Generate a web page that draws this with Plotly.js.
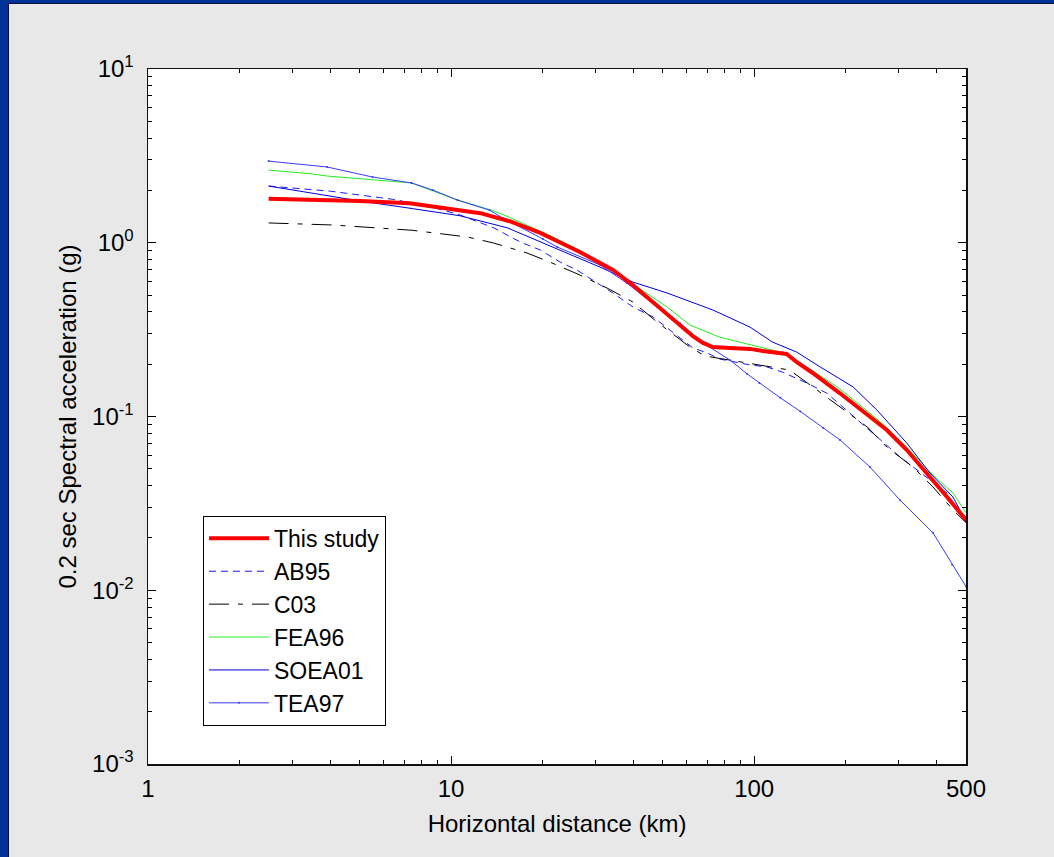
<!DOCTYPE html>
<html><head><meta charset="utf-8">
<script src="https://cdn.plot.ly/plotly-3.0.1.min.js"></script>
<style>
html,body{margin:0;padding:0;background:#003399;width:1054px;height:857px;overflow:hidden;}
#frame{position:absolute;left:8px;top:3px;width:1046px;height:854px;background:#0c0c3c;}
#plot{position:absolute;left:1px;top:1px;width:1045px;height:853px;}
</style></head><body><div id="frame"><div id="plot"></div></div>
<script>
// ---- data (distance km, 0.2 s spectral acceleration g) ----
const thisStudyDist = [2.5, 5, 7.3, 10.7, 12.5, 15.6, 19.7, 26.6, 34.2, 39.8, 46.4, 51.6, 56.9, 62.8, 67.8, 73.1, 83.4, 97, 107, 122, 128, 138, 156, 192, 236, 274, 319, 372, 433, 500];
const thisStudySA   = [1.79, 1.74, 1.69, 1.53, 1.48, 1.33, 1.14, 0.885, 0.697, 0.571, 0.456, 0.392, 0.336, 0.290, 0.265, 0.251, 0.248, 0.245, 0.238, 0.233, 0.229, 0.206, 0.178, 0.136, 0.102, 0.0836, 0.0641, 0.0473, 0.0344, 0.0254];

const ab95Dist = [2.5, 4, 6.4, 8.5, 10.7, 13.8, 16.9, 19.7, 22.9, 26.0, 34.2, 39.8, 46.4, 51.6, 62.8, 70.0, 77.1, 96.9, 110, 124, 149, 174, 236, 303, 433, 500];
const ab95SA   = [2.12, 1.98, 1.78, 1.62, 1.445, 1.22, 1.01, 0.908, 0.774, 0.697, 0.514, 0.427, 0.374, 0.323, 0.248, 0.232, 0.214, 0.198, 0.193, 0.180, 0.156, 0.136, 0.0859, 0.0585, 0.0363, 0.0247];

const c03Dist = [2.5, 4.08, 7.43, 11.3, 13.8, 17.8, 21.2, 26.6, 32.7, 39.8, 47.8, 61.4, 68.8, 89.8, 110, 131, 142, 165, 192, 236, 274, 334, 389, 453, 500];
const c03SA   = [1.30, 1.265, 1.18, 1.08, 0.997, 0.873, 0.774, 0.652, 0.549, 0.456, 0.350, 0.251, 0.223, 0.206, 0.195, 0.185, 0.167, 0.138, 0.113, 0.0871, 0.0667, 0.0512, 0.0393, 0.0290, 0.0245];

const fea96Dist = [2.5, 3.48, 3.9, 5.5, 7.4, 8.7, 10.5, 13.6, 15.3, 20.7, 26.6, 34.2, 40, 51.6, 61.4, 68.8, 76.6, 91.9, 107, 122, 149, 188, 254, 319, 389, 453, 500];
const fea96SA   = [2.62, 2.49, 2.42, 2.30, 2.21, 1.99, 1.76, 1.54, 1.42, 1.12, 0.90, 0.70, 0.575, 0.427, 0.336, 0.310, 0.287, 0.265, 0.248, 0.235, 0.193, 0.148, 0.097, 0.0667, 0.046, 0.0363, 0.0279];

const soea01Dist = [2.5, 5, 7.5, 10.7, 15.3, 22.9, 31.0, 39.8, 51.6, 73.1, 96.9, 115, 138, 165, 212, 254, 319, 380, 453, 500];
const soea01SA   = [2.12, 1.74, 1.57, 1.43, 1.22, 0.908, 0.724, 0.594, 0.514, 0.410, 0.327, 0.268, 0.235, 0.193, 0.148, 0.109, 0.0703, 0.0473, 0.0344, 0.0248];

const tea97Dist = [2.5, 3.9, 5.5, 7.4, 8.7, 10.5, 13.4, 14.8, 20.1, 22.4, 31.0, 38.0, 47.8, 56.9, 67.8, 71.4, 83.4, 94.7, 104, 122, 142, 169, 192, 241, 303, 389, 450, 500];
const tea97SA   = [2.95, 2.73, 2.39, 2.21, 2.01, 1.76, 1.54, 1.39, 1.05, 0.945, 0.745, 0.586, 0.427, 0.345, 0.265, 0.251, 0.211, 0.176, 0.156, 0.128, 0.107, 0.0859, 0.0733, 0.0512, 0.0330, 0.0214, 0.0140, 0.0105];

const xTickVals = [1, 10, 100, 500];
const xTickText = ['1', '10', '100', '500'];
const yTickVals = [0.001, 0.01, 0.1, 1, 10];
const yTickText = ['10<sup>-3</sup>', '10<sup>-2</sup>', '10<sup>-1</sup>', '10<sup>0</sup>', '10<sup>1</sup>'];

// minor tick positions (axis decoration)
const xMinor = [];
[1, 10, 100].forEach(d => { for (let k = 2; k <= 9; k++) { if (k * d < 500) xMinor.push(k * d); } });
const yMinor = [];
[0.001, 0.01, 0.1, 1].forEach(d => { for (let k = 2; k <= 9; k++) yMinor.push(k * d); });

const FONT = 'Liberation Sans, Arial, Helvetica, sans-serif';

const traces = [
  {name: 'AB95', x: ab95Dist, y: ab95SA, mode: 'lines', legendrank: 2,
   line: {color: '#1a1aff', width: 1, dash: '7px,5px'}},
  {name: 'C03', x: c03Dist, y: c03SA, mode: 'lines', legendrank: 3,
   line: {color: '#000000', width: 1, dash: '20px,9px,5px,9px'}},
  {name: 'FEA96', x: fea96Dist, y: fea96SA, mode: 'lines', legendrank: 4,
   line: {color: '#22ee22', width: 1}},
  {name: 'SOEA01', x: soea01Dist, y: soea01SA, mode: 'lines', legendrank: 5,
   line: {color: '#0000dd', width: 1}},
  {name: 'TEA97', x: tea97Dist, y: tea97SA, mode: 'lines+markers', legendrank: 6,
   line: {color: '#3a3aff', width: 1}, marker: {color: '#3a3aff', size: 2}},
  {name: 'This study', x: thisStudyDist, y: thisStudySA, mode: 'lines', legendrank: 1,
   line: {color: '#ff0000', width: 4}}
];

const layout = {
  width: 1045, height: 853,
  margin: {l: 139, r: 88, t: 65, b: 93, pad: 0},
  paper_bgcolor: '#e8e8e8',
  plot_bgcolor: '#ffffff',
  font: {family: FONT, size: 24, color: '#000'},
  showlegend: true,
  legend: {
    x: 0.0672, y: 0.357, xanchor: 'left', yanchor: 'top',
    bgcolor: '#ffffff', bordercolor: '#000', borderwidth: 1,
    font: {family: FONT, size: 23, color: '#000'},
    itemwidth: 60, tracegroupgap: 0
  },
  xaxis: {
    type: 'log', range: [0, Math.log10(500)],
    tickmode: 'array', tickvals: xTickVals, ticktext: xTickText,
    ticks: 'inside', ticklen: 8, tickwidth: 1, tickcolor: '#000',
    showline: true, linecolor: '#111', linewidth: 1.5, mirror: 'ticks',
    showgrid: false, zeroline: false,
    minor: {ticks: 'inside', ticklen: 4, tickwidth: 1, tickcolor: '#000', tickvals: xMinor, showgrid: false},
    tickfont: {family: FONT, size: 24, color: '#000'},
    ticklabelstandoff: 3,
    title: {text: 'Horizontal distance (km)', font: {family: FONT, size: 24, color: '#000'}, standoff: 14}
  },
  yaxis: {
    type: 'log', range: [-3, 1],
    tickmode: 'array', tickvals: yTickVals, ticktext: yTickText,
    ticks: 'inside', ticklen: 8, tickwidth: 1, tickcolor: '#000',
    showline: true, linecolor: '#111', linewidth: 1.5, mirror: 'ticks',
    showgrid: false, zeroline: false,
    minor: {ticks: 'inside', ticklen: 4, tickwidth: 1, tickcolor: '#000', tickvals: yMinor, showgrid: false},
    tickfont: {family: FONT, size: 24, color: '#000'},
    ticklabelstandoff: 8,
    title: {text: '0.2 sec Spectral acceleration (g)', font: {family: FONT, size: 24, color: '#000'}, standoff: 8}
  }
};

Plotly.newPlot('plot', traces, layout, {displayModeBar: false, staticPlot: true});
</script></body></html>
